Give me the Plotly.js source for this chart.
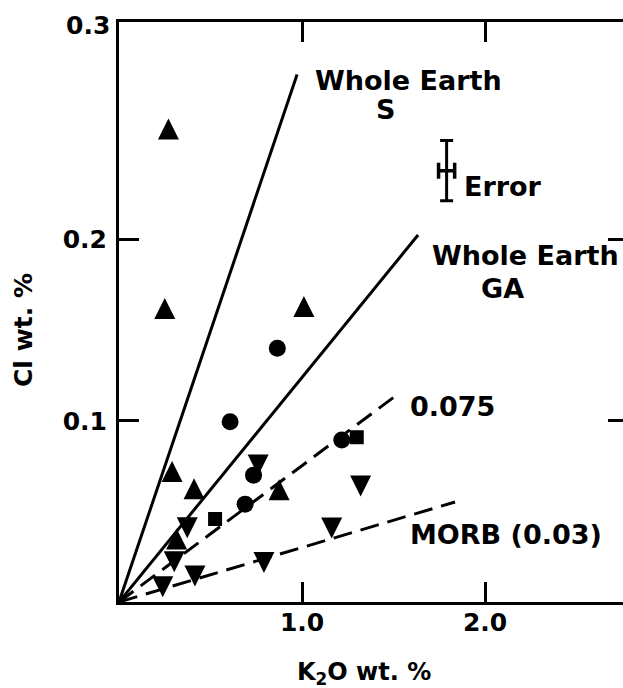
<!DOCTYPE html>
<html>
<head>
<meta charset="utf-8">
<script src="https://cdn.plot.ly/plotly-3.0.1.min.js"></script>
<style>
  html, body { margin: 0; padding: 0; overflow: hidden; background: #fff; }
</style>
</head>
<body>
<div id="chart"></div>
<script>
// K2O and Cl contents (wt. %), one pair of arrays per symbol group
const triUpK2O   = [0.27, 0.25, 1.01, 0.29, 0.41, 0.875, 0.315];
const triUpCl    = [0.261, 0.162, 0.163, 0.072, 0.0625, 0.062, 0.0348];
const triDownK2O = [0.76, 0.373, 0.302, 0.415, 0.239, 0.792, 1.162, 1.32];
const triDownCl  = [0.0756, 0.041, 0.0222, 0.0143, 0.0084, 0.0218, 0.0408, 0.064];
const circleK2O  = [0.865, 0.607, 0.735, 0.689, 1.217];
const circleCl   = [0.140, 0.0995, 0.070, 0.054, 0.0894];
const squareK2O  = [0.525, 1.299];
const squareCl   = [0.0458, 0.0909];

// Cl/K2O reference lines drawn from the origin
const wholeEarthS_K2O  = [0, 0.973];
const wholeEarthS_Cl   = [0, 0.291];
const wholeEarthGA_K2O = [0, 1.634];
const wholeEarthGA_Cl  = [0, 0.2025];
const ratio075_K2O     = [0, 1.503];
const ratio075_Cl      = [0, 0.1131];
const morb_K2O         = [0, 1.836];
const morb_Cl          = [0, 0.0552];

// Typical analytical uncertainty
const errorK2O   = [1.79];
const errorCl    = [0.238];
const errorK2OPm = [0.044];
const errorClPm  = [0.0166];

// Axis ticks and labels
const xTickVals = [1, 2];
const xTickText = ['1.0', '2.0'];
const yTickVals = [0.1, 0.2];
const yTickText = ['0.1', '0.2'];
const yTopLabel = '0.3';
const xTitle = 'K<sub>2</sub>O wt. %';
const yTitle = 'Cl wt. %';
const lineLabels = {
  s1: 'Whole Earth', s2: 'S',
  ga1: 'Whole Earth', ga2: 'GA',
  r075: '0.075', morb: 'MORB (0.03)', err: 'Error'
};

const INK = '#000';
const FONT = 'DejaVu Sans';
const TRI = 21;

function refLine(x, y, dash) {
  return {
    type: 'scatter', mode: 'lines', x: x, y: y, hoverinfo: 'skip',
    line: { color: INK, width: 3, dash: dash }
  };
}

const traces = [
  refLine(wholeEarthS_K2O, wholeEarthS_Cl, 'solid'),
  refLine(wholeEarthGA_K2O, wholeEarthGA_Cl, 'solid'),
  refLine(ratio075_K2O, ratio075_Cl, '18px,9px'),
  refLine(morb_K2O, morb_Cl, '19px,9px'),
  {
    type: 'scatter', mode: 'markers', x: triUpK2O, y: triUpCl,
    marker: { symbol: 'arrow-down', angle: 180, standoff: TRI / 2, size: TRI, color: INK, line: { width: 0 } }
  },
  {
    type: 'scatter', mode: 'markers', x: triDownK2O, y: triDownCl,
    marker: { symbol: 'arrow-down', angle: 0, standoff: TRI / 2, size: TRI, color: INK, line: { width: 0 } }
  },
  {
    type: 'scatter', mode: 'markers', x: circleK2O, y: circleCl,
    marker: { symbol: 'circle', size: 17, color: INK, line: { width: 0 } }
  },
  {
    type: 'scatter', mode: 'markers', x: squareK2O, y: squareCl,
    marker: { symbol: 'square', size: 14, color: INK, line: { width: 0 } }
  },
  {
    type: 'scatter', mode: 'markers', x: errorK2O, y: errorCl,
    marker: { size: 1, color: INK, opacity: 0 },
    error_y: { type: 'data', array: errorClPm, visible: true, color: INK, thickness: 3, width: 6.5 },
    error_x: { type: 'data', array: errorK2OPm, visible: true, color: INK, thickness: 3.5, width: 8 }
  }
];

const labelFont = { family: FONT, size: 27, color: INK, weight: 'bold' };
const tickFont = { family: FONT, size: 25, color: INK, weight: 'bold' };

function label(text, x, y, xanchor) {
  return { text: text, x: x, y: y, xref: 'x', yref: 'y', xanchor: xanchor, yanchor: 'middle',
           showarrow: false, font: labelFont };
}

const layout = {
  width: 632,
  height: 688,
  paper_bgcolor: '#fff',
  plot_bgcolor: '#fff',
  showlegend: false,
  margin: { l: 119, r: 4, t: 22, b: 86 },
  font: { family: FONT, color: INK, weight: 'bold' },
  xaxis: {
    range: [0, 2.781],
    tickvals: xTickVals, ticktext: xTickText,
    ticks: 'inside', ticklen: 20, tickwidth: 3, tickcolor: INK,
    showline: true, linewidth: 3, linecolor: INK, mirror: 'ticks',
    showgrid: false, zeroline: false,
    tickfont: tickFont,
    ticklabelstandoff: -4
  },
  yaxis: {
    range: [0, 0.32],
    tickvals: yTickVals, ticktext: yTickText,
    ticks: 'inside', ticklen: 20, tickwidth: 3, tickcolor: INK,
    showline: true, linewidth: 3, linecolor: INK, mirror: 'ticks',
    showgrid: false, zeroline: false,
    tickfont: tickFont,
    ticklabelstandoff: 4
  },
  annotations: [
    { text: yTopLabel, xref: 'paper', yref: 'paper', x: 0, y: 1, xanchor: 'right', yanchor: 'middle',
      xshift: -7, yshift: -3, showarrow: false, font: tickFont },
    // axis titles
    { text: yTitle, xref: 'paper', yref: 'paper', x: 0, y: 0.469, xanchor: 'center', yanchor: 'middle',
      xshift: -95, textangle: -90, showarrow: false,
      font: { family: FONT, size: 25, color: INK, weight: 'bold' } },
    { text: xTitle, xref: 'paper', yref: 'paper', x: 0.481, y: -0.124, xanchor: 'center', yanchor: 'middle',
      showarrow: false, font: { family: FONT, size: 24, color: INK, weight: 'bold' } },
    // line and error labels
    label(lineLabels.s1, 1.06, 0.2875, 'left'),
    label(lineLabels.s2, 1.454, 0.272, 'center'),
    label(lineLabels.ga1, 1.699, 0.191, 'left'),
    label(lineLabels.ga2, 2.093, 0.1727, 'center'),
    label(lineLabels.r075, 1.579, 0.1076, 'left'),
    label(lineLabels.morb, 1.579, 0.037, 'left'),
    label(lineLabels.err, 1.874, 0.229, 'left')
  ]
};

Plotly.newPlot('chart', traces, layout, { staticPlot: true, displayModeBar: false });
</script>
</body>
</html>
